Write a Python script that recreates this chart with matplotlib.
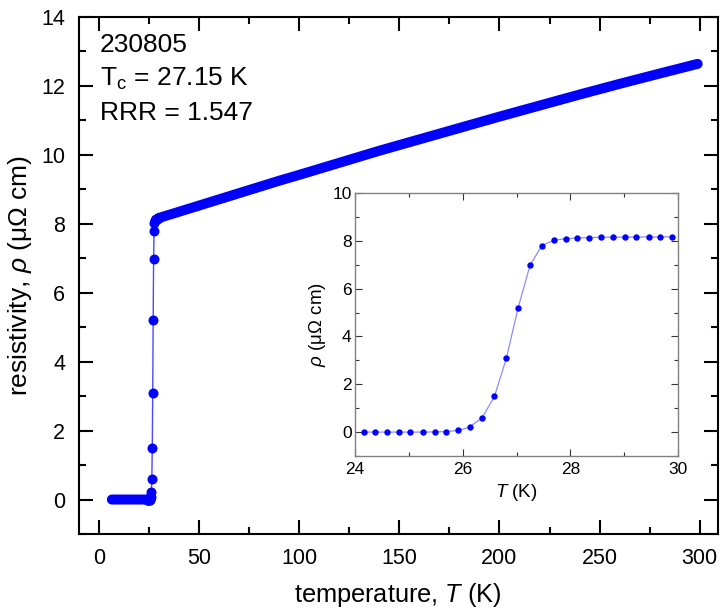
import numpy as np
import matplotlib
matplotlib.use('Agg')
import matplotlib.pyplot as plt
from matplotlib.ticker import MultipleLocator

plt.rcParams['font.family'] = ['Liberation Sans', 'DejaVu Sans']
plt.rcParams['mathtext.fontset'] = 'custom'
plt.rcParams['mathtext.rm'] = 'Liberation Sans'
plt.rcParams['mathtext.it'] = 'Liberation Sans:italic'

# superconducting state (flat, rho ~ 0)
T_sc = [6.4, 10, 15, 20, 24.16, 24.37, 24.59, 24.81, 25.03, 25.27, 25.48, 25.69, 25.91]
rho_sc = [0.0, 0.0, 0.0, 0.0, 0.0, 0.0, 0.0, 0.0, 0.0, 0.0, 0.0, 0.02, 0.07]

# transition region (also the inset data)
T_tr = [24.16, 24.37, 24.59, 24.81, 25.03, 25.27, 25.48, 25.69, 25.91, 26.13, 26.36,
        26.59, 26.81, 27.03, 27.25, 27.47, 27.69, 27.91, 28.12, 28.35, 28.57, 28.79,
        29.01, 29.22, 29.46, 29.67, 29.89]
rho_tr = [0.0, 0.0, 0.0, 0.0, 0.0, 0.0, 0.01, 0.02, 0.07, 0.21, 0.60,
          1.49, 3.08, 5.20, 6.97, 7.80, 8.02, 8.09, 8.12, 8.13, 8.15, 8.15,
          8.15, 8.16, 8.16, 8.16, 8.17]

# normal state
T_n = [29.89, 40, 50, 60, 70, 80, 90, 100, 120, 140, 160, 180, 200, 220, 240, 260, 280, 299]
rho_n = [8.17, 8.35, 8.53, 8.71, 8.89, 9.07, 9.25, 9.42, 9.77, 10.12, 10.45, 10.78,
         11.11, 11.43, 11.75, 12.06, 12.36, 12.64]

sample = '230805'
Tc = 27.15
RRR = 1.547

blue = '#0000ff'

fig = plt.figure(figsize=(7.21, 6.14), dpi=100)
ax = fig.add_axes([0.1096, 0.1303, 0.8858, 0.8420])

# full curve as one thin line
T_all = T_sc[:4] + T_tr + T_n[1:]
rho_all = rho_sc[:4] + rho_tr + rho_n[1:]
ax.plot(T_all, rho_all, '-', color='#4a4aff', lw=1.0, zorder=2)

# dense data appears as a continuous band
ax.plot(T_sc, rho_sc, '-', color=blue, lw=7.2, solid_capstyle='round',
        solid_joinstyle='round', zorder=3)
ax.plot(T_n, rho_n, '-', color=blue, lw=7.2, solid_capstyle='round',
        solid_joinstyle='round', zorder=3)
ax.plot(T_tr, rho_tr, 'o', color=blue, ms=7.2, mec='none', zorder=4)

ax.set_xlim(-10, 309)
ax.set_ylim(-1, 14)
ax.xaxis.set_major_locator(MultipleLocator(50))
ax.xaxis.set_minor_locator(MultipleLocator(25))
ax.yaxis.set_major_locator(MultipleLocator(2))
ax.yaxis.set_minor_locator(MultipleLocator(1))
ax.tick_params(which='both', direction='in', top=True, right=True, width=1.5,
               labelsize=15.5, pad=10)
ax.tick_params(which='major', length=10)
ax.tick_params(which='minor', length=5)
for s in ax.spines.values():
    s.set_linewidth(1.5)

ax.set_xlabel('temperature, $\\it{T}$ (K)', fontsize=18.3, labelpad=9)
ax.set_ylabel('resistivity, $\\it{\\rho}$ (\u03bc\u03a9 cm)', fontsize=19, labelpad=5)

ax.text(0.033, 0.945, sample, transform=ax.transAxes, fontsize=19, va='center')
ax.text(0.033, 0.881, 'T$_\\mathrm{c}$ = %.2f K' % Tc, transform=ax.transAxes,
        fontsize=19, va='center')
ax.text(0.033, 0.815, 'RRR = %.3f' % RRR, transform=ax.transAxes, fontsize=19,
        va='center')

# inset: zoom on the transition
axi = fig.add_axes([0.4924, 0.2573, 0.4480, 0.4284])
axi.plot(T_tr, rho_tr, '-', color='#8c8cff', lw=0.9, zorder=2)
axi.plot(T_tr, rho_tr, 'o', color=blue, ms=4.6, mec='none', zorder=3)
axi.set_xlim(24, 30)
axi.set_ylim(-1, 10)
axi.xaxis.set_major_locator(MultipleLocator(2))
axi.xaxis.set_minor_locator(MultipleLocator(1))
axi.yaxis.set_major_locator(MultipleLocator(2))
axi.yaxis.set_minor_locator(MultipleLocator(1))
axi.tick_params(which='both', direction='in', top=True, right=True, width=0.8,
                color='#333333', labelsize=12.5)
axi.tick_params(axis='x', pad=4)
axi.tick_params(axis='y', pad=2.5)
axi.tick_params(which='major', length=5)
axi.tick_params(which='minor', length=3)
for s in axi.spines.values():
    s.set_linewidth(1.0)
    s.set_color('#808080')
axi.set_xlabel('$\\it{T}$ (K)', fontsize=13.5, labelpad=4)
axi.set_ylabel('$\\it{\\rho}$ (\u03bc\u03a9 cm)', fontsize=13.5, labelpad=3)

fig.savefig('out.png', dpi=100)
